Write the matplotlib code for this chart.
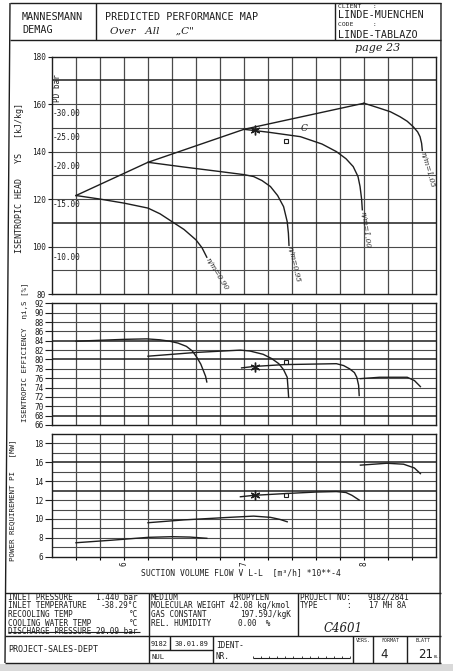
import matplotlib
matplotlib.use('Agg')
import matplotlib.pyplot as plt
import numpy as np

W, H = 453, 671
MONO = 'DejaVu Sans Mono'
HAND = 'DejaVu Serif'
INK = '#1e1e1e'
GRID = '#4a4a4a'

# ---------------- data ----------------
flow_ticks = [6, 7, 8]
head_ticks = [80, 100, 120, 140, 160, 180]
eff_ticks = [66, 68, 70, 72, 74, 76, 78, 80, 82, 84, 86, 88, 90, 92]
power_ticks = [6, 8, 10, 12, 14, 16, 18]

pd_labels = ['30.00', '25.00', '20.00', '15.00', '10.00']
pd_head = [156.2, 146.0, 133.6, 117.6, 95.5]

speed_labels = ['n/m=0.90', 'n/m=0.95', 'n/m=1.00', 'n/m=1.05']

surge_flow = [5.6, 6.2, 7.0, 8.0]
surge_head = [121.5, 135.5, 149.4, 160.4]

h090_flow = [5.6, 5.8, 6.0, 6.2, 6.3, 6.4, 6.5, 6.6, 6.65, 6.69]
h090_head = [121.5, 120.0, 118.3, 116.2, 113.8, 110.5, 107.2, 102.8, 99.5, 95.5]
h095_flow = [6.2, 6.5, 6.8, 7.0, 7.08, 7.15, 7.22, 7.28, 7.33, 7.36, 7.37, 7.375]
h095_head = [135.5, 133.5, 131.6, 130.3, 129.5, 127.8, 125.3, 121.5, 116.8, 110.5, 105.6, 100.5]
h100_flow = [7.0, 7.2, 7.47, 7.65, 7.77, 7.85, 7.91, 7.95, 7.967, 7.98, 7.986]
h100_head = [149.4, 148.2, 146.3, 143.2, 140.0, 137.0, 133.7, 129.5, 125.3, 120.0, 115.5]
h105_flow = [8.0, 8.13, 8.22, 8.3, 8.36, 8.41, 8.447, 8.467, 8.48, 8.486]
h105_head = [160.4, 158.3, 156.8, 154.7, 152.8, 150.5, 148.3, 146.3, 143.5, 140.5]

e090_flow = [5.6, 5.8, 6.0, 6.19, 6.3, 6.38, 6.45, 6.52, 6.57, 6.606, 6.64, 6.66, 6.68, 6.69]
e090_eff = [83.9, 84.1, 84.3, 84.4, 84.2, 83.9, 83.5, 82.8, 81.8, 80.5, 79.0, 77.7, 76.4, 75.2]
e095_flow = [6.2, 6.6, 6.97, 7.05, 7.16, 7.23, 7.29, 7.33, 7.36, 7.368, 7.372]
e095_eff = [80.7, 81.5, 82.0, 81.8, 81.1, 80.2, 79.1, 77.8, 76.2, 73.5, 71.9]
e100_flow = [6.98, 7.08, 7.33, 7.77, 7.83, 7.88, 7.92, 7.94, 7.955, 7.96]
e100_eff = [78.2, 78.5, 78.9, 79.1, 78.7, 78.0, 77.2, 76.2, 74.5, 72.3]
e105_flow = [7.97, 8.13, 8.36, 8.42, 8.47]
e105_eff = [75.9, 76.2, 76.2, 75.5, 74.2]

p090_flow = [5.6, 5.9, 6.2, 6.4, 6.55, 6.69]
p090_pow = [7.48, 7.75, 8.05, 8.12, 8.08, 7.95]
p095_flow = [6.2, 6.5, 6.88, 7.08, 7.22, 7.3, 7.36]
p095_pow = [9.6, 9.9, 10.17, 10.3, 10.17, 9.95, 9.7]
p100_flow = [6.97, 7.08, 7.36, 7.6, 7.77, 7.85, 7.9, 7.96]
p100_pow = [12.35, 12.5, 12.7, 12.85, 12.9, 12.8, 12.5, 12.0]
p105_flow = [7.97, 8.19, 8.33, 8.42, 8.47]
p105_pow = [15.7, 15.9, 15.8, 15.4, 14.8]

op_flow = [7.09]
op_head = [149.1]
op_eff = [78.4]
op_pow = [12.5]
guar_flow = [7.35]
guar_head = [144.5]
guar_eff = [79.4]
guar_pow = [12.5]

# ---------------- figure ----------------
fig = plt.figure(figsize=(W / 100, H / 100), dpi=100)
fig.patch.set_facecolor('white')

deco = fig.add_axes([0, 0, 1, 1], zorder=0)
deco.set_xlim(0, W)
deco.set_ylim(H, 0)
deco.axis('off')


def make_ax(top_px, bot_px):
    ax = fig.add_axes([52 / W, 1 - bot_px / H, 384 / W, (bot_px - top_px) / H],
                      facecolor='none', zorder=2)
    ax.set_xlim(5.4, 8.6)
    for s in ax.spines.values():
        s.set_color(INK)
        s.set_linewidth(1.0)
    return ax


ax1 = make_ax(56.7, 294)
ax2 = make_ax(303.3, 425)
ax3 = make_ax(434, 556.7)

ax1.set_ylim(80, 180)
ax2.set_ylim(66, 92)
ax3.set_ylim(6, 19)

vx = np.arange(5.6, 8.5, 0.2)
for ax, ys, heavy in [(ax1, np.arange(90, 180, 10), [170, 110]),
                      (ax2, np.arange(68, 92, 2), [84, 80, 68]),
                      (ax3, np.arange(7, 19, 1), [16, 13])]:
    for v in vx:
        ax.axvline(v, color=GRID, lw=0.9, zorder=1)
    for yv in ys:
        hv = any(abs(yv - h) < 1e-6 for h in heavy)
        ax.axhline(yv, color=INK if hv else GRID, lw=1.1 if hv else 0.8, zorder=1)

for ax, ticks, ln in [(ax1, head_ticks, 3), (ax2, eff_ticks, 5), (ax3, power_ticks, 5)]:
    ax.set_yticks(ticks)
    ax.set_yticklabels([str(t) for t in ticks], fontfamily=MONO, fontsize=5.6, color=INK)
    ax.tick_params(axis='y', length=ln, width=0.8, pad=1.2, color=INK)
    ax.tick_params(axis='x', which='both', length=0, labelbottom=False)

ax3.set_xticks(flow_ticks)
ax3.set_xticks(vx, minor=True)
ax3.set_xticklabels([str(t) for t in flow_ticks], rotation=90, fontfamily=MONO,
                    fontsize=5.5, color=INK)
ax3.tick_params(axis='x', which='major', length=2, width=0.8, pad=1.5, labelbottom=True)
ax3.tick_params(axis='x', which='minor', length=2, width=0.8)

lkw = dict(color=INK, lw=1.0, zorder=3)
# head
ax1.plot(surge_flow, surge_head, **lkw)
head_curves = [(h090_flow, h090_head), (h095_flow, h095_head),
               (h100_flow, h100_head), (h105_flow, h105_head)]
label_rot = [-58, -77, -82, -74]
for (fx, fy), lab, rot in zip(head_curves, speed_labels, label_rot):
    ax1.plot(fx, fy, **lkw)
    ax1.annotate(lab, (fx[-1], fy[-1]), xytext=(0, -1), textcoords='offset points',
                 rotation=rot, rotation_mode='anchor', ha='left', va='center',
                 fontsize=5.3, fontfamily=HAND, style='italic', color=INK, zorder=4)
for lab, hv in zip(pd_labels, pd_head):
    ax1.annotate('-' + lab, (5.4, hv), xytext=(0.5, 0), textcoords='offset points',
                 ha='left', va='center', fontsize=5.6, fontfamily=MONO, color=INK, zorder=4)
ax1.plot(op_flow, op_head, marker=(6, 2, 0), ms=7, mew=1.0, color=INK, ls='none', zorder=5)
ax1.plot(guar_flow, guar_head, marker='s', ms=3, mew=0.8, mfc='none', mec=INK, ls='none', zorder=5)
ax1.text(7.47, 148.6, 'C', fontsize=6.5, fontfamily=HAND, style='italic', color=INK, zorder=4)

# efficiency
for fx, fy in [(e090_flow, e090_eff), (e095_flow, e095_eff),
               (e100_flow, e100_eff), (e105_flow, e105_eff)]:
    ax2.plot(fx, fy, **lkw)
ax2.plot(op_flow, op_eff, marker=(6, 2, 0), ms=7, mew=1.0, color=INK, ls='none', zorder=5)
ax2.plot(guar_flow, guar_eff, marker='s', ms=3, mew=0.8, mfc='none', mec=INK, ls='none', zorder=5)

# power
for fx, fy in [(p090_flow, p090_pow), (p095_flow, p095_pow),
               (p100_flow, p100_pow), (p105_flow, p105_pow)]:
    ax3.plot(fx, fy, **lkw)
ax3.plot(op_flow, op_pow, marker=(6, 2, 0), ms=7, mew=1.0, color=INK, ls='none', zorder=5)
ax3.plot(guar_flow, guar_pow, marker='s', ms=3, mew=0.8, mfc='none', mec=INK, ls='none', zorder=5)

# ---------------- decoration (page frame, title block, table) ----------------
def L(x0, y0, x1, y1, lw=1.0):
    deco.plot([x0, x1], [y0, y1], color=INK, lw=lw, solid_capstyle='butt')


def T(x, y, s, size=5.6, ha='left', va='center', rot=0, fam=MONO, style='normal', **kw):
    deco.text(x, y, s, fontsize=size, ha=ha, va=va, rotation=rot, family=fam,
              style=style, color=INK, **kw)


# scan background at the bottom
deco.add_patch(plt.Rectangle((0, 664), W, H - 664, color='#d9d9d9', lw=0))

# frame
L(10, 3, 441, 3)
L(10, 3, 5, 663)
L(441, 3, 440, 663)
L(10, 40, 441, 40)
L(95.5, 3, 95.5, 40)
L(335, 3, 335, 40)

T(22, 17, 'MANNESMANN', size=7.3)
T(22, 30, 'DEMAG', size=7.3)
T(105, 17, 'PREDICTED PERFORMANCE MAP', size=7.3)
T(110, 31, 'Over   All     „C"', size=7.5, fam=HAND, style='italic')
T(338, 6, 'CLIENT   :', size=4.6)
T(338, 15.5, 'LINDE-MUENCHEN', size=7.3)
T(338, 25, 'CODE     :', size=4.6)
T(338, 34.5, 'LINDE-TABLAZO', size=7.3)
T(378, 48, 'page 23', size=8, ha='center', fam=HAND, style='italic')

# axis titles
T(20, 178, 'ISENTROPIC HEAD   YS   [kJ/kg]', size=6.0, ha='center', rot=90)
T(58, 88, 'PD bar', size=5.6, ha='center', rot=90)
T(25, 352, 'ISENTROPIC EFFICIENCY  ηi,S [%]', size=5.4, ha='center', rot=90)
T(13, 500, 'POWER REQUIREMENT PI   [MW]', size=5.4, ha='center', rot=90)
T(241, 573, 'SUCTION VOLUME FLOW V L-L  [m³/h] *10**-4', size=5.8, ha='center')

# table
L(5, 593.3, 441, 593.3)
L(5, 636, 441, 636)
L(149, 593.3, 149, 663)
L(298, 593.3, 298, 636)
L(170, 636, 170, 650)
L(213, 636, 213, 663)
L(149, 650, 213, 650)
L(353, 636, 353, 663)
L(373, 636, 373, 663)
L(407, 636, 407, 663)
L(5, 663, 441, 663)

T(8, 597.5, 'INLET PRESSURE')
T(138, 597.5, '1.440 bar', ha='right')
T(8, 606, 'INLET TEMPERATURE')
T(138, 606, '-38.29°C', ha='right')
T(8, 614.5, 'RECOOLING TEMP')
T(138, 614.5, '°C', ha='right')
T(8, 623, 'COOLING WATER TEMP')
T(138, 623, '°C', ha='right')
T(8, 632, 'DISCHARGE PRESSURE 29.09 bar')
L(8, 632, 140, 632, lw=0.8)

T(151, 597.5, 'MEDIUM')
T(232, 597.5, 'PROPYLEN')
T(151, 606, 'MOLECULAR WEIGHT 42.08 kg/kmol')
T(151, 614.5, 'GAS CONSTANT')
T(240, 614.5, '197.59J/kgK')
T(151, 623, 'REL. HUMIDITY')
T(238, 623, '0.00  %')

T(300, 597.5, 'PROJECT NO:')
T(367, 597.5, '9182/2841')
T(300, 606, 'TYPE')
T(346, 606, ':')
T(369, 606, '17 MH 8A')
T(343, 629, 'C4601', size=8.5, ha='center', fam=HAND, style='italic')

T(8, 649, 'PROJECT-SALES-DEPT', size=6.0)
T(159.5, 643.5, '9182', size=5.0, ha='center')
T(191.5, 643.5, '30.01.89', size=5.0, ha='center')
T(151, 657, 'NUL', size=5.2)
T(216, 645, 'IDENT-')
T(216, 656.5, 'NR.')
L(253, 658, 350, 658, lw=0.8)
for tx in np.linspace(253, 350, 13):
    L(tx, 658, tx, 655.5, lw=0.6)
T(363, 641, 'VERS.', size=3.6, ha='center')
T(390, 641, 'FORMAT', size=3.6, ha='center')
T(423, 641, 'BLATT', size=3.6, ha='center')
T(384, 655, '4', size=8.5, ha='center', fam='DejaVu Sans')
T(426, 655, '21', size=8.5, ha='center', fam='DejaVu Sans')
T(437, 657, 'BL.', size=3.0, ha='center')

fig.savefig('out.png', dpi=100, facecolor='white')
